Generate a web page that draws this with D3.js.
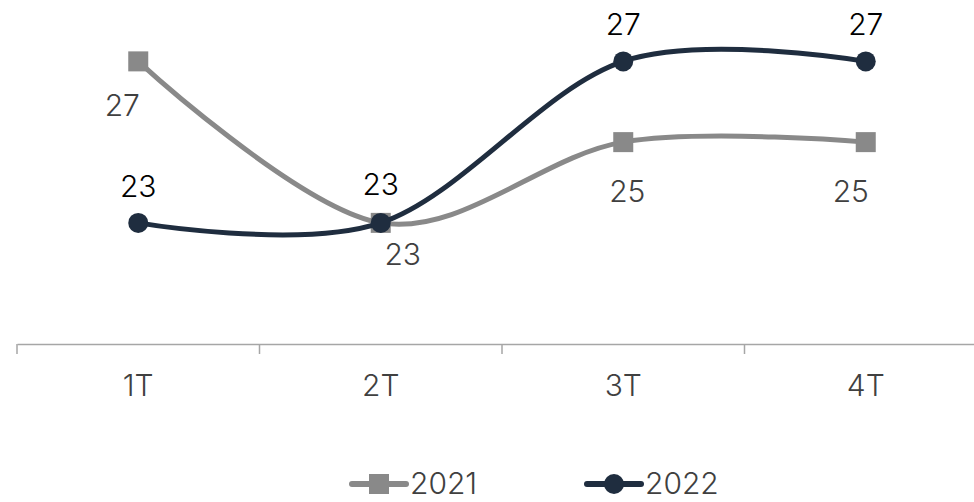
<!DOCTYPE html>
<html><head>
<meta charset="utf-8">
<script src="https://d3js.org/d3.v7.min.js"></script>
<style>
  body { margin: 0; background: #fff; }
  text { font-family: Inter, "Noto Sans", sans-serif; font-weight: 300; }
</style>
</head>
<body>
<svg id="chart" width="974" height="502"></svg>
<script>
  // data
  const quarters = ["1T", "2T", "3T", "4T"];
  const values2021 = [27, 23, 25, 25];
  const values2022 = [23, 23, 27, 27];
  const seriesNames = ["2021", "2022"];

  const svg = d3.select("svg#chart");
  const margins = {"top": 21, "left": 17, "bottom": 158};
  const chartHeight = 502 - margins.top - margins.bottom;
  const fontSize = 30;

  const gray = "#898989";
  const navy = "#1f2d3f";

  // band centres at 139, 381, 624, 867
  const xScale = d3.scaleBand().domain(quarters).range([17, 987]);
  const xPos = q => xScale(q) + xScale.bandwidth() / 2;
  const yScale = d3.scaleLinear().domain([20, 28]).range([margins.top + chartHeight, margins.top]);

  // x axis
  const bottomAxis = d3.axisBottom(xScale).tickSize(0).tickPadding(31);
  const ax = svg.append("g")
      .attr("transform", "translate(0," + yScale(20) + ")")
      .call(bottomAxis);
  ax.select(".domain").attr("stroke", "#a6a6a6").attr("stroke-width", 1.5);
  ax.selectAll(".tick text").attr("font-size", fontSize).attr("fill", "#404040")
      .attr("font-family", "Inter").attr("font-weight", 300);
  // tick marks between categories
  ax.selectAll("line.sep").data(quarters).enter().append("line")
      .attr("class", "sep")
      .attr("x1", d => xScale(d)).attr("x2", d => xScale(d))
      .attr("y1", 0).attr("y2", 10)
      .attr("stroke", "#a6a6a6").attr("stroke-width", 1.5);

  const line = d3.line()
      .x((d, i) => xPos(quarters[i]))
      .y(d => yScale(d))
      .curve(d3.curveCardinal.tension(0));

  // 2021
  svg.append("path").datum(values2021)
      .attr("d", line).attr("fill", "none")
      .attr("stroke", gray).attr("stroke-width", 5);
  svg.selectAll("rect.m2021").data(values2021).enter().append("rect")
      .attr("class", "m2021")
      .attr("x", (d, i) => xPos(quarters[i]) - 10)
      .attr("y", d => yScale(d) - 10)
      .attr("width", 20).attr("height", 20)
      .attr("fill", gray);

  // 2022
  svg.append("path").datum(values2022)
      .attr("d", line).attr("fill", "none")
      .attr("stroke", navy).attr("stroke-width", 5);
  svg.selectAll("circle.m2022").data(values2022).enter().append("circle")
      .attr("class", "m2022")
      .attr("cx", (d, i) => xPos(quarters[i]))
      .attr("cy", d => yScale(d))
      .attr("r", 10)
      .attr("fill", navy);

  // labels: 2021 below, 2022 above
  const dx2021 = [-16, 22, 4, -15];
  const dy2021 = [55, 42, 60, 60];
  svg.selectAll("text.l2021").data(values2021).enter().append("text")
      .attr("class", "l2021")
      .attr("x", (d, i) => xPos(quarters[i]) + dx2021[i])
      .attr("y", (d, i) => yScale(d) + dy2021[i])
      .attr("text-anchor", "middle")
      .attr("font-size", fontSize).attr("fill", "#404040")
      .text(d => d);

  const dy2022 = [-26, -28, -26, -26];
  svg.selectAll("text.l2022").data(values2022).enter().append("text")
      .attr("class", "l2022")
      .attr("x", (d, i) => xPos(quarters[i]))
      .attr("y", (d, i) => yScale(d) + dy2022[i])
      .attr("text-anchor", "middle")
      .attr("font-size", fontSize).attr("fill", "#000")
      .text(d => d);

  // legend
  const legend = svg.append("g").attr("transform", "translate(0,484)");
  const lg1 = legend.append("g").attr("transform", "translate(352,0)");
  lg1.append("line").attr("x1", 0).attr("x2", 54).attr("stroke", gray)
      .attr("stroke-width", 6).attr("stroke-linecap", "round");
  lg1.append("rect").attr("x", 17).attr("y", -10).attr("width", 20).attr("height", 20).attr("fill", gray);
  lg1.append("text").attr("x", 58).attr("y", 10).attr("font-size", fontSize).attr("fill", "#404040").text(seriesNames[0]);

  const lg2 = legend.append("g").attr("transform", "translate(587,0)");
  lg2.append("line").attr("x1", 0).attr("x2", 54).attr("stroke", navy)
      .attr("stroke-width", 6).attr("stroke-linecap", "round");
  lg2.append("circle").attr("cx", 27).attr("cy", 0).attr("r", 10).attr("fill", navy);
  lg2.append("text").attr("x", 58).attr("y", 10).attr("font-size", fontSize).attr("fill", "#404040").text(seriesNames[1]);
</script>
</body></html>
